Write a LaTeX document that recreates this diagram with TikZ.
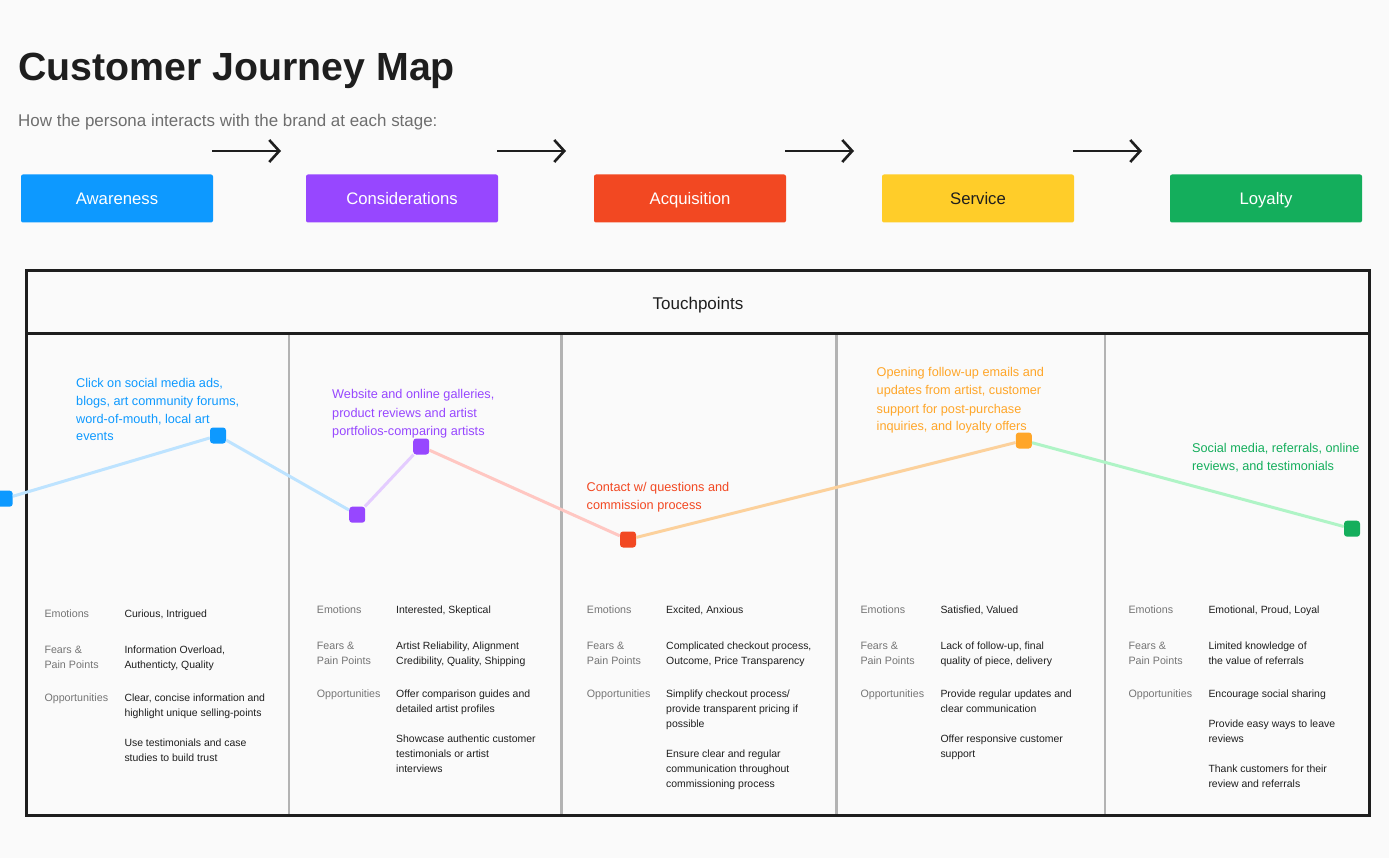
\documentclass[tikz,border=0pt]{standalone}
\usepackage{fontspec}
\setmainfont{Liberation Sans}
\usetikzlibrary{arrows.meta}
\definecolor{bg}{HTML}{FAFAFA}
\definecolor{ink}{HTML}{1E1E1E}
\definecolor{subgray}{HTML}{6E6E6E}
\definecolor{labgray}{HTML}{757575}
\definecolor{divgray}{HTML}{B3B3B3}
\definecolor{cblue}{HTML}{0D99FF}
\definecolor{cpurple}{HTML}{9747FF}
\definecolor{cred}{HTML}{F24822}
\definecolor{cyellow}{HTML}{FFCD29}
\definecolor{cgreen}{HTML}{14AE5C}
\definecolor{corange}{HTML}{FFA629}
\definecolor{lblue}{HTML}{BDE3FF}
\definecolor{lpurple}{HTML}{E4CCFF}
\definecolor{lred}{HTML}{FFC7C2}
\definecolor{lorange}{HTML}{FCD19C}
\definecolor{lgreen}{HTML}{AFF4C6}
\newcommand\mlines[1]{\begin{tabular}[t]{@{}l@{}}#1\end{tabular}}
\tikzset{
  stagebox/.style={rectangle, rounded corners=2, minimum width=192, minimum height=48, inner sep=0, text height=15.5, text depth=2.5, text=white, font=\fontsize{16.7}{20}\selectfont},
  flowarrow/.style={draw=ink, line width=2.6, -{Straight Barb[length=10,width=22,line width=2.6]}},
  tptext/.style={anchor=base west, inner sep=0, font=\fontsize{12.7}{18}\selectfont},
  labtext/.style={anchor=base west, inner sep=0, text=labgray, font=\fontsize{10.7}{15}\selectfont},
  valtext/.style={anchor=base west, inner sep=0, text=ink, font=\fontsize{10.45}{15}\selectfont},
  marker/.style={rectangle, rounded corners=3, minimum size=16, inner sep=0},
  journey/.style={line width=3},
  divider/.style={draw=divgray, line width=2.6},
}
\begin{document}
\begin{tikzpicture}[x=1pt, y=-1pt]
\fill[bg] (0,0) rectangle (1389,858);
\useasboundingbox (0,0) rectangle (1389,858);

% title
\node[anchor=base west, inner sep=0, text=ink, font=\fontsize{39.3}{44}\selectfont\bfseries] (title) at (18,81) {Customer Journey Map};
\node[anchor=base west, inner sep=0, text=subgray, font=\fontsize{16.95}{20}\selectfont] (subtitle) at (18,127) {How the persona interacts with the brand at each stage:};

% stages
\node[stagebox, fill=cblue] (s1) at (117,198.5) {Awareness};
\node[stagebox, fill=cpurple] (s2) at (402,198.5) {Considerations};
\node[stagebox, fill=cred] (s3) at (690,198.5) {Acquisition};
\node[stagebox, fill=cyellow, text=ink] (s4) at (978,198.5) {Service};
\node[stagebox, fill=cgreen] (s5) at (1266,198.5) {Loyalty};

\coordinate (a1s) at (212,151); \coordinate (a1e) at (281,151);
\coordinate (a2s) at (497,151); \coordinate (a2e) at (566,151);
\coordinate (a3s) at (785,151); \coordinate (a3e) at (854,151);
\coordinate (a4s) at (1073,151); \coordinate (a4e) at (1142,151);
\draw[flowarrow] (a1s) -- (a1e);
\draw[flowarrow] (a2s) -- (a2e);
\draw[flowarrow] (a3s) -- (a3e);
\draw[flowarrow] (a4s) -- (a4e);

% table
\node[draw=ink, line width=3, rectangle, anchor=north west, outer sep=0, minimum width=1343, minimum height=63.5, inner sep=0, text height=16, text depth=2.4, text=ink, font=\fontsize{17}{20}\selectfont] (header) at (26.5,270.5) {Touchpoints};
\draw[draw=ink, line width=3] (26.5,334) rectangle (1369.5,815.5);
\draw[divider] (289,335.5) -- (289,814);
\draw[divider] (561.5,335.5) -- (561.5,814);
\draw[divider] (836.5,335.5) -- (836.5,814);
\draw[divider] (1105,335.5) -- (1105,814);

% journey markers
\node[marker, fill=cblue] (m0) at (4.7,498.7) {};
\node[marker, fill=cblue] (m1) at (218,435.5) {};
\node[marker, fill=cpurple] (m2) at (357.2,514.7) {};
\node[marker, fill=cpurple] (m3) at (421.2,446.5) {};
\node[marker, fill=cred] (m4) at (628,539.5) {};
\node[marker, fill=corange] (m5) at (1023.8,440.5) {};
\node[marker, fill=cgreen] (m6) at (1352,528.7) {};
\draw[journey, draw=lblue] (m0) -- (m1);
\draw[journey, draw=lblue] (m1) -- (m2);
\draw[journey, draw=lpurple] (m2) -- (m3);
\draw[journey, draw=lred] (m3) -- (m4);
\draw[journey, draw=lorange] (m4) -- (m5);
\draw[journey, draw=lgreen] (m5) -- (m6);

% touchpoint texts
\node[tptext, text=cblue] (t1) at (76,387) {\mlines{Click on social media ads,\\ blogs, art community forums,\\ word-of-mouth, local art\\ events}};
\node[tptext, text=cpurple] (t2) at (332,399) {\mlines{Website and online galleries,\\ product reviews and artist\\ portfolios-comparing artists}};
\node[tptext, text=cred] (t3) at (586.5,491) {\mlines{Contact w/ questions and\\ commission process}};
\node[tptext, text=corange] (t4) at (876.5,377) {\mlines{Opening follow-up emails and\\ updates from artist, customer\\ support for post-purchase\\ inquiries, and loyalty offers}};
\node[tptext, text=cgreen] (t5) at (1192,452) {\mlines{Social media, referrals, online\\ reviews, and testimonials}};

% column 1
\node[labtext] (c1l1) at (44.3,617) {Emotions};
\node[labtext] (c1l2) at (44.3,653) {\mlines{Fears \&\\ Pain Points}};
\node[labtext] (c1l3) at (44.3,701) {Opportunities};
\node[valtext] (c1v1) at (124.3,617) {Curious, Intrigued};
\node[valtext] (c1v2) at (124.3,653) {\mlines{Information Overload,\\ Authenticty, Quality}};
\node[valtext] (c1v3) at (124.3,701) {\mlines{Clear, concise information and\\ highlight unique selling-points}};
\node[valtext] (c1v4) at (124.3,746.5) {\mlines{Use testimonials and case\\ studies to build trust}};

% column 2
\node[labtext] (c2l1) at (316.7,613) {Emotions};
\node[labtext] (c2l2) at (316.7,649) {\mlines{Fears \&\\ Pain Points}};
\node[labtext] (c2l3) at (316.7,697) {Opportunities};
\node[valtext] (c2v1) at (396,613) {Interested, Skeptical};
\node[valtext] (c2v2) at (396,649) {\mlines{Artist Reliability, Alignment\\ Credibility, Quality, Shipping}};
\node[valtext] (c2v3) at (396,697) {\mlines{Offer comparison guides and\\ detailed artist profiles}};
\node[valtext] (c2v4) at (396,742) {\mlines{Showcase authentic customer\\ testimonials or artist\\ interviews}};

% column 3
\node[labtext] (c3l1) at (586.7,613) {Emotions};
\node[labtext] (c3l2) at (586.7,649) {\mlines{Fears \&\\ Pain Points}};
\node[labtext] (c3l3) at (586.7,697) {Opportunities};
\node[valtext] (c3v1) at (666,613) {Excited, Anxious};
\node[valtext] (c3v2) at (666,649) {\mlines{Complicated checkout process,\\ Outcome, Price Transparency}};
\node[valtext] (c3v3) at (666,697) {\mlines{Simplify checkout process/\\ provide transparent pricing if\\ possible}};
\node[valtext] (c3v4) at (666,757) {\mlines{Ensure clear and regular\\ communication throughout\\ commissioning process}};

% column 4
\node[labtext] (c4l1) at (860.3,613) {Emotions};
\node[labtext] (c4l2) at (860.3,649) {\mlines{Fears \&\\ Pain Points}};
\node[labtext] (c4l3) at (860.3,697) {Opportunities};
\node[valtext] (c4v1) at (940.3,613) {Satisfied, Valued};
\node[valtext] (c4v2) at (940.3,649) {\mlines{Lack of follow-up, final\\ quality of piece, delivery}};
\node[valtext] (c4v3) at (940.3,697) {\mlines{Provide regular updates and\\ clear communication}};
\node[valtext] (c4v4) at (940.3,742) {\mlines{Offer responsive customer\\ support}};

% column 5
\node[labtext] (c5l1) at (1128.3,613) {Emotions};
\node[labtext] (c5l2) at (1128.3,649) {\mlines{Fears \&\\ Pain Points}};
\node[labtext] (c5l3) at (1128.3,697) {Opportunities};
\node[valtext] (c5v1) at (1208.3,613) {Emotional, Proud, Loyal};
\node[valtext] (c5v2) at (1208.3,649) {\mlines{Limited knowledge of\\ the value of referrals}};
\node[valtext] (c5v3) at (1208.3,697) {Encourage social sharing};
\node[valtext] (c5v4) at (1208.3,727) {\mlines{Provide easy ways to leave\\ reviews}};
\node[valtext] (c5v5) at (1208.3,772) {\mlines{Thank customers for their\\ review and referrals}};
\end{tikzpicture}
\end{document}
